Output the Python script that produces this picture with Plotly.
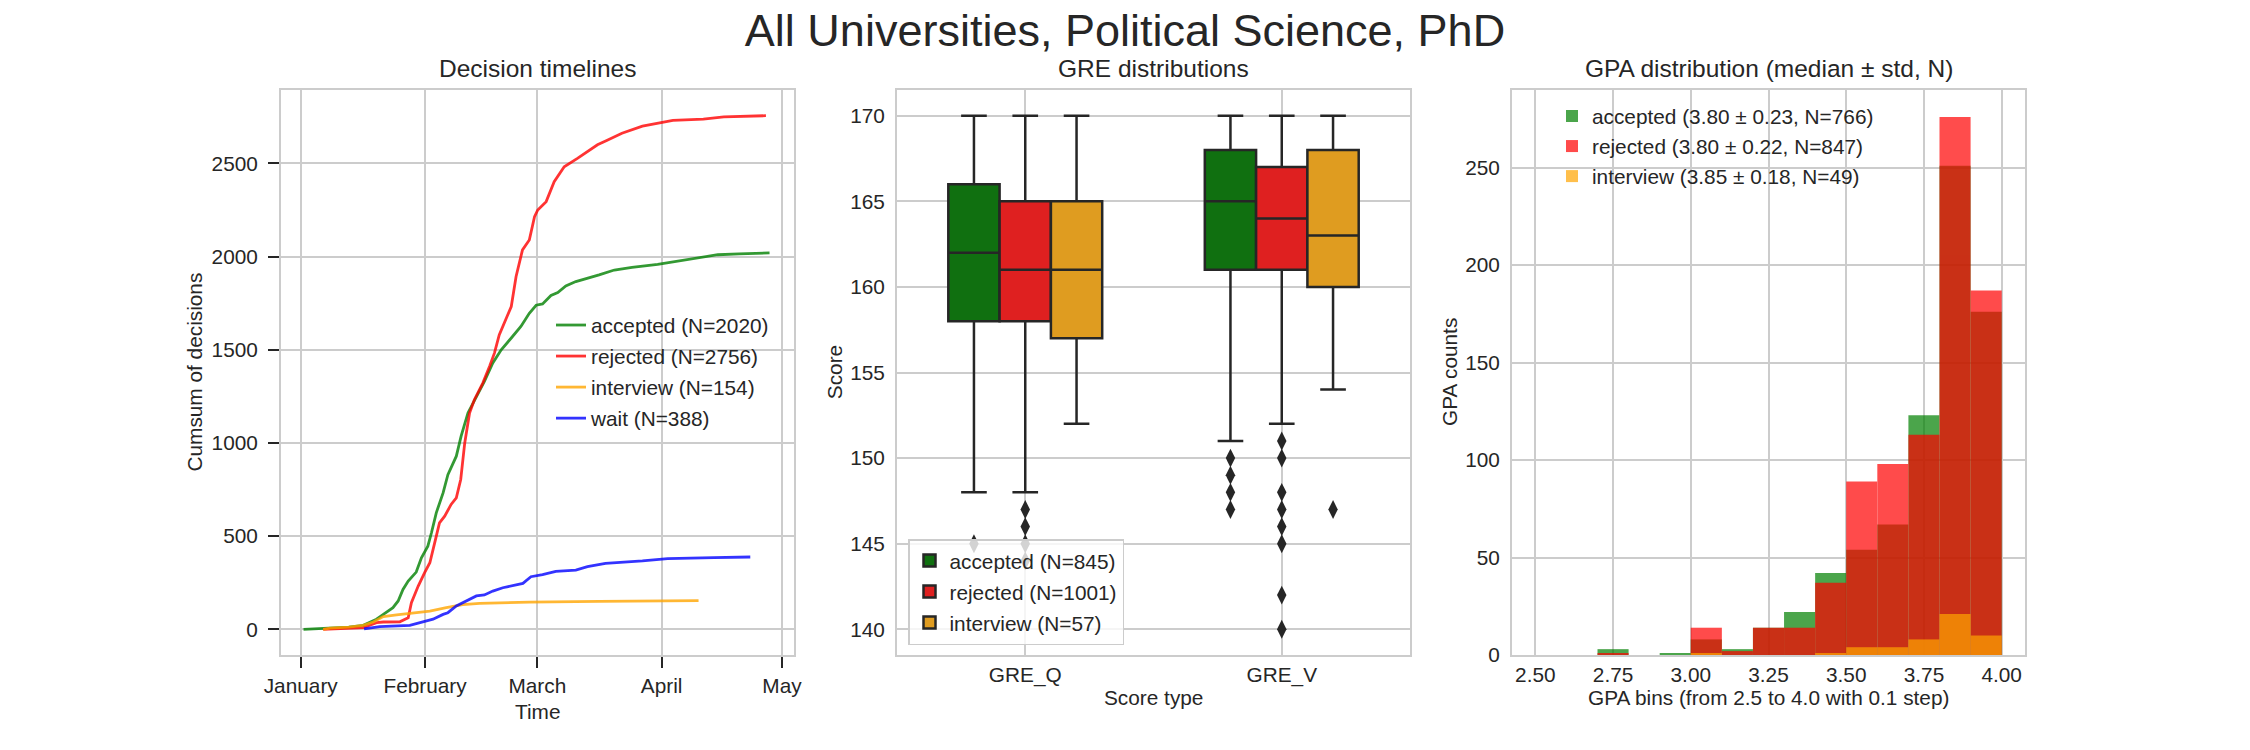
import pandas as pd
import plotly.graph_objects as go

W, H = 2250, 750
FONT = "Liberation Sans"
TXT = "#262626"
GRID = "#cccccc"
BASE_DATE = "2019-01-01"

# ---------------- Decision timelines (days after Jan 1, cumulative count) ----------------
acc_days = [0.7, 3, 7.3, 12, 15.6, 18.9, 20.6, 23.0, 24.3, 25.5, 26.8, 28.8, 30.1, 31.7, 32.6,
            33.8, 35.5, 36.7, 38.8, 40.0, 41.7, 43.8, 45.8, 47.9, 50.0, 52.5, 54.9, 57.0, 58.7,
            60.3, 62.4, 64.1, 66.1, 68.6, 71.1, 74.4, 78.2, 82.6, 89, 94, 100.4, 104, 109.3, 116.9]
acc_cum = [0, 3, 5, 12, 21, 54, 80, 116, 152, 214, 259, 307, 384, 446, 518,
           625, 732, 830, 929, 1036, 1161, 1250, 1330, 1429, 1500, 1563, 1625, 1696, 1739,
           1746, 1791, 1807, 1843, 1866, 1880, 1902, 1928, 1942, 1958, 1975, 1995, 2010, 2015, 2020]

rej_days = [5.6, 7.3, 12, 15.6, 18.9, 20.6, 24.7, 26.8, 27.6, 29.3, 30.9, 32.2, 33.4, 34.6, 35.9,
            37.5, 38.8, 39.9, 40.9, 42.1, 43.3, 45.4, 47.1, 48.3, 49.5, 50.8, 52.5, 53.7, 55.3,
            57.0, 58.3, 59.1, 61.2, 63.2, 65.7, 69.0, 71.9, 74, 76.3, 80.1, 85.2, 90, 92.8,
            100.4, 105.5, 116]
rej_cum = [0, 1, 4, 9, 36, 39, 40, 62, 143, 232, 304, 357, 464, 571, 607,
           670, 705, 804, 1000, 1161, 1232, 1321, 1411, 1482, 1580, 1643, 1732, 1893, 2036,
           2089, 2214, 2250, 2295, 2402, 2482, 2527, 2571, 2600, 2623, 2662, 2700, 2718, 2731,
           2738, 2750, 2756]

int_days = [5.6, 7.3, 12, 15.6, 18.1, 20.6, 23.9, 28.0, 32.2, 36.3, 40.4, 44.6, 50.4, 57.0, 74.4, 99.2]
int_cum = [0, 6, 12, 21, 39, 68, 77, 89, 98, 116, 132, 139, 143, 146, 150, 154]

wait_days = [15.8, 19.7, 27.2, 30.1, 33.0, 35.5, 36.7, 38.8, 41.3, 43.8, 45.8, 47.9, 50.4, 52.9,
             55.4, 57.4, 60.3, 63.6, 68.6, 71.5, 74.4, 76, 85.2, 91.5, 103, 112.1]
wait_cum = [2, 14, 21, 39, 54, 80, 89, 125, 152, 179, 184, 205, 223, 236,
            246, 282, 293, 311, 318, 336, 348, 354, 367, 379, 385, 388]

timeline_names = ["accepted (N=2020)", "rejected (N=2756)", "interview (N=154)", "wait (N=388)"]
timeline_colors = ["rgba(0,128,0,0.8)", "rgba(255,0,0,0.8)", "rgba(255,165,0,0.8)", "rgba(0,0,255,0.8)"]

# ---------------- GRE distributions (box statistics) ----------------
gre_types = ["GRE_Q", "GRE_V"]
gre_names = ["accepted (N=845)", "rejected (N=1001)", "interview (N=57)"]
box_colors = ["#107010", "#df2020", "#df9c20"]
acc_q1, acc_med, acc_q3, acc_lo, acc_hi = [158, 161], [162, 165], [166, 168], [148, 151], [170, 170]
rej_q1, rej_med, rej_q3, rej_lo, rej_hi = [158, 161], [161, 164], [165, 167], [148, 152], [170, 170]
int_q1, int_med, int_q3, int_lo, int_hi = [157, 160], [161, 163], [165, 168], [152, 154], [170, 170]
acc_out = [[145], [150, 149, 148, 147]]
rej_out = [[147, 146, 145, 144], [151, 150, 148, 147, 146, 145, 142, 140]]
int_out = [[], [147]]

# ---------------- GPA distribution (histogram counts, 0.1 bins from 2.5) ----------------
gpa_bin_left = [2.5, 2.6, 2.7, 2.8, 2.9, 3.0, 3.1, 3.2, 3.3, 3.4, 3.5, 3.6, 3.7, 3.8, 3.9]
gpa_acc = [0, 0, 3, 0, 1, 8, 3, 14, 22, 42, 54, 67, 123, 251, 176]
gpa_rej = [0, 0, 1, 0, 0, 14, 2, 14, 14, 37, 89, 98, 113, 276, 187]
gpa_int = [0, 0, 0, 0, 0, 1, 0, 0, 0, 1, 4, 4, 8, 21, 10]
gpa_names = ["accepted (3.80 ± 0.23, N=766)", "rejected (3.80 ± 0.22, N=847)",
             "interview (3.85 ± 0.18, N=49)"]
gpa_colors = ["#008000", "#ff0000", "#ffa500"]

fig = go.Figure()

base = pd.Timestamp(BASE_DATE)
series = [(acc_days, acc_cum), (rej_days, rej_cum), (int_days, int_cum), (wait_days, wait_cum)]
for i, ((d, c), name, col) in enumerate(zip(series, timeline_names, timeline_colors)):
    dates = base + pd.to_timedelta(d, unit="D")
    fig.add_trace(go.Scatter(x=dates, y=c, mode="lines", name=name,
                             line=dict(color=col, width=2.8),
                             xaxis="x", yaxis="y", legend="legend", legendgroup=f"t{i}"))

offsets = [-0.2, 0.0, 0.2]
stats = [(acc_q1, acc_med, acc_q3, acc_lo, acc_hi, acc_out),
         (rej_q1, rej_med, rej_q3, rej_lo, rej_hi, rej_out),
         (int_q1, int_med, int_q3, int_lo, int_hi, int_out)]
for k, ((q1, med, q3, lo, hi, outs), name, col) in enumerate(zip(stats, gre_names, box_colors)):
    xs = [j + offsets[k] for j in range(len(gre_types))]
    fig.add_trace(go.Box(x=xs, q1=q1, median=med, q3=q3, lowerfence=lo, upperfence=hi,
                         width=0.2, whiskerwidth=0.5, boxpoints=False, name=name,
                         fillcolor=col, line=dict(color=TXT, width=2.5),
                         xaxis="x2", yaxis="y2", legend="legend2", legendgroup=f"b{k}"))
    ox, oy = [], []
    for j, vals in enumerate(outs):
        ox += [j + offsets[k]] * len(vals)
        oy += vals
    fig.add_trace(go.Scatter(x=ox, y=oy, mode="markers", showlegend=False, hoverinfo="y",
                             marker=dict(symbol="diamond-tall", size=13.5, color=TXT),
                             xaxis="x2", yaxis="y2"))

for g, (counts, name, col) in enumerate(zip([gpa_acc, gpa_rej, gpa_int], gpa_names, gpa_colors)):
    fig.add_trace(go.Bar(x=gpa_bin_left, y=counts, width=0.1, offset=0, name=name,
                         marker=dict(color=col, line=dict(width=0)), opacity=0.7,
                         xaxis="x3", yaxis="y3", legend="legend3", legendgroup=f"g{g}"))

ydom = [1 - 655 / H, 1 - 90 / H]
common = dict(showline=True, mirror=True, linecolor=GRID, linewidth=2, showgrid=True,
              gridcolor=GRID, gridwidth=2, zeroline=False, automargin=False,
              tickfont=dict(family=FONT, size=20.8, color=TXT))

fig.update_layout(
    width=W, height=H, margin=dict(l=0, r=0, t=0, b=0, autoexpand=False),
    paper_bgcolor="white", plot_bgcolor="white",
    font=dict(family=FONT, size=20.8, color=TXT),
    barmode="overlay", boxmode="overlay",
    title=dict(text="All Universities, Political Science, PhD", x=0.5, xanchor="center",
               y=1 - 30 / H, yanchor="middle", yref="container",
               font=dict(family=FONT, size=45, color=TXT)),
    xaxis=dict(domain=[281 / W, 794 / W], anchor="y", type="date",
               range=["2018-12-27 02:00", "2019-05-04 00:00"],
               tick0="2019-01-01", dtick="M1", tickformat="%B",
               ticks="outside", ticklen=11, tickwidth=2, tickcolor=TXT, ticklabelstandoff=0,
               **common),
    yaxis=dict(domain=ydom, anchor="x", range=[-138, 2894], tick0=0, dtick=500,
               ticks="outside", ticklen=11, tickwidth=2, tickcolor=TXT, ticklabelstandoff=6,
               **common),
    xaxis2=dict(domain=[897 / W, 1410 / W], anchor="y2", range=[-0.5, 1.5],
                tickvals=[0, 1], ticktext=gre_types, ticks="", ticklabelstandoff=0, **common),
    yaxis2=dict(domain=ydom, anchor="x2", range=[138.5, 171.5], tick0=140, dtick=5,
                ticks="", ticklabelstandoff=6, **common),
    xaxis3=dict(domain=[1512 / W, 2025 / W], anchor="y3", range=[2.425, 4.075],
                tick0=2.5, dtick=0.25, tickformat=".2f", ticks="", ticklabelstandoff=0, **common),
    yaxis3=dict(domain=ydom, anchor="x3", range=[0, 289.8], tick0=0, dtick=50,
                ticks="", ticklabelstandoff=6, **common),
    legend=dict(x=551 / W, y=1 - 305 / H, xanchor="left", yanchor="top",
                bgcolor="rgba(0,0,0,0)", tracegroupgap=1,
                font=dict(family=FONT, size=20.8, color=TXT)),
    legend2=dict(x=908 / W, y=1 - 645 / H, xanchor="left", yanchor="bottom",
                 bgcolor="rgba(255,255,255,0.8)", bordercolor=GRID, borderwidth=1.5,
                 tracegroupgap=1,
                 font=dict(family=FONT, size=20.8, color=TXT)),
    legend3=dict(x=1552 / W, y=1 - 96 / H, xanchor="left", yanchor="top",
                 bgcolor="rgba(0,0,0,0)", tracegroupgap=0,
                 font=dict(family=FONT, size=20.8, color=TXT)),
)

annots = [
    ("Decision timelines", 537.5, 68.4, 0, 24.5),
    ("GRE distributions", 1153.5, 68.4, 0, 24.5),
    ("GPA distribution (median ± std, N)", 1768.5, 68.4, 0, 24.5),
    ("Time", 537.5, 711.7, 0, 20.8),
    ("Score type", 1153.5, 697.7, 0, 20.8),
    ("GPA bins (from 2.5 to 4.0 with 0.1 step)", 1768.5, 697.7, 0, 20.8),
    ("Cumsum of decisions", 194, 372.5, -90, 20.8),
    ("Score", 834.7, 372.5, -90, 20.8),
    ("GPA counts", 1449.5, 372.5, -90, 20.8),
]
for text, px, py, ang, fs in annots:
    fig.add_annotation(text=text, x=px / W, y=1 - py / H, xref="paper", yref="paper",
                       xanchor="center", yanchor="middle", showarrow=False, textangle=ang,
                       font=dict(family=FONT, size=fs, color=TXT))

fig.write_html("out.html", config={"displayModeBar": False},
               post_script="document.body.style.margin='0px';")
